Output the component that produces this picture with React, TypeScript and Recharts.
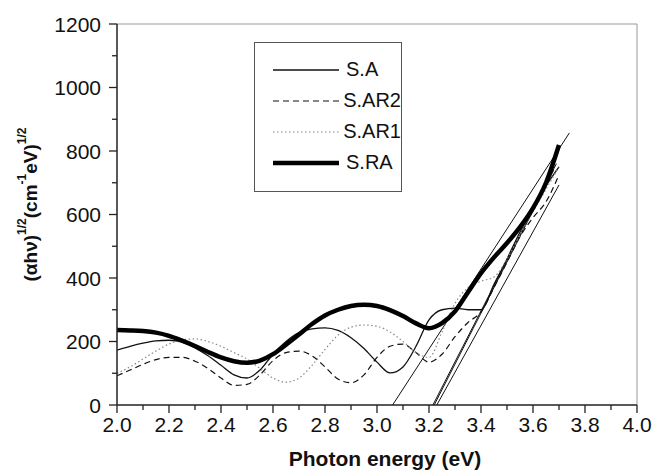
import { LineChart, Line, XAxis, YAxis, ReferenceLine, Legend } from 'recharts'

// ---------- data ----------

const energy = [
  2.0, 2.05, 2.1, 2.15, 2.2, 2.25, 2.3, 2.35, 2.4, 2.45, 2.5, 2.55, 2.6, 2.65, 2.7, 2.75, 2.8, 2.85,
  2.9, 2.95, 3.0, 3.05, 3.1, 3.15, 3.2, 3.25, 3.3, 3.35, 3.4, 3.45, 3.5, 3.55, 3.6, 3.65, 3.7,
]

const sA = [
  173, 185, 195, 202, 204, 198, 180, 155, 125, 95, 85, 110, 160, 200, 228, 240, 243, 235,
  212, 178, 135, 101, 120, 185, 268, 300, 305, 300, 300, 380, 460, 545, 620, 690, 750,
]

const sAR2 = [
  92, 110, 128, 143, 150, 150, 138, 115, 85, 62, 65, 95, 140, 165, 170, 155, 120, 82,
  70, 95, 150, 185, 192, 165, 135, 160, 215, 260, 293, 370, 450, 530, 590, 640, 725,
]

const sAR1 = [
  100, 120, 145, 170, 192, 205, 208, 200, 185, 165, 145, 115, 85, 72, 85, 125, 175, 220,
  245, 252, 248, 230, 200, 165, 150, 230, 320, 370, 390, 403, 460, 535, 610, 680, 750,
]

const sRA = [
  236, 235, 233, 228, 218, 203, 186, 167, 150, 138, 133, 140, 160, 190, 222, 255, 282, 300,
  312, 316, 312, 299, 280, 257, 242, 258, 295, 355, 415, 465, 510, 560, 620, 700, 819,
]

// straight-line fits to the absorption edge
const fitStartEnergy = [3.06, 3.215, 3.22, 3.23]
const fitEndEnergy = [3.74, 3.69, 3.68, 3.7]
const fitEndValue = [857, 760, 740, 693]

const xTicks = [
  2.0, 2.1, 2.2, 2.3, 2.4, 2.5, 2.6, 2.7, 2.8, 2.9, 3.0, 3.1, 3.2, 3.3, 3.4, 3.5, 3.6, 3.7, 3.8, 3.9, 4.0,
]
const yTicks = [0, 100, 200, 300, 400, 500, 600, 700, 800, 900, 1000, 1100, 1200]

// ---------- series ----------

const toPoints = (values: number[]) => energy.map((x, i) => ({ x, y: values[i] }))

const series = [
  { name: 'S.A', values: sA, color: '#111', width: 1.3, dash: undefined as string | undefined },
  { name: 'S.AR2', values: sAR2, color: '#111', width: 1.2, dash: '6 4' },
  { name: 'S.AR1', values: sAR1, color: '#888', width: 1.2, dash: '1.5 2.5' },
  { name: 'S.RA', values: sRA, color: '#000', width: 4.5, dash: undefined },
]

const fits = fitStartEnergy.map((x0, i) => [
  { x: x0, y: 0 },
  { x: fitEndEnergy[i], y: fitEndValue[i] },
])

const font = '"Liberation Sans", Arial, Helvetica, sans-serif'
const axisColor = '#222'

// ---------- ticks & labels ----------

function XTick({ x, y, payload }: any) {
  const major = Math.round(payload.value * 10) % 2 === 0
  return (
    <g>
      <line x1={x} x2={x} y1={y} y2={y + (major ? 8 : 5)} stroke={axisColor} strokeWidth={1.3} />
      {major && (
        <text x={x} y={y + 27} textAnchor="middle" fontSize={21} fill="#111" fontFamily={font}>
          {payload.value.toFixed(1)}
        </text>
      )}
    </g>
  )
}

function YTick({ x, y, payload }: any) {
  const major = payload.value % 200 === 0
  return (
    <g>
      <line x1={x - (major ? 8 : 5)} x2={x} y1={y} y2={y} stroke={axisColor} strokeWidth={1.3} />
      {major && (
        <text x={x - 16} y={y} dy="0.36em" textAnchor="end" fontSize={21} fill="#111" fontFamily={font}>
          {payload.value}
        </text>
      )}
    </g>
  )
}

function YTitle({ viewBox }: any) {
  const cx = viewBox.x + 30
  const cy = viewBox.y + viewBox.height / 2 - 10
  return (
    <text
      x={cx}
      y={cy}
      transform={`rotate(-90, ${cx}, ${cy})`}
      textAnchor="middle"
      dominantBaseline="central"
      fontSize={19}
      fontWeight="bold"
      fill="#111"
      fontFamily={font}
    >
      <tspan>(αhν)</tspan>
      <tspan fontSize={12} dy={-8}>1/2</tspan>
      <tspan dy={8}>(cm</tspan>
      <tspan fontSize={12} dy={-8}>-1</tspan>
      <tspan dy={8}>eV)</tspan>
      <tspan fontSize={12} dy={-8}>1/2</tspan>
    </text>
  )
}

function XTitle({ viewBox }: any) {
  return (
    <text
      x={viewBox.x + viewBox.width / 2 + 8}
      y={viewBox.y + 61}
      textAnchor="middle"
      fontSize={21}
      fontWeight="bold"
      fill="#111"
      fontFamily={font}
    >
      Photon energy (eV)
    </text>
  )
}

function LegendBox() {
  return (
    <div
      style={{
        width: 148,
        height: 150,
        boxSizing: 'border-box',
        border: '1px solid #555',
        background: '#fff',
        paddingTop: 11,
        fontFamily: font,
      }}
    >
      {series.map((s) => (
        <div key={s.name} style={{ height: 31, display: 'flex', alignItems: 'center' }}>
          <svg width={84} height={12} style={{ marginLeft: 18 }}>
            <line
              x1={0}
              x2={66}
              y1={6}
              y2={6}
              stroke={s.color}
              strokeWidth={s.width}
              strokeDasharray={s.dash}
            />
          </svg>
          <span style={{ fontSize: 20, color: '#111', marginLeft: -11 }}>{s.name}</span>
        </div>
      ))}
    </div>
  )
}

export default function App() {
  return (
    <div style={{ position: 'absolute', left: 0, top: 0, width: 652, height: 473, background: '#fff' }}>
      <LineChart width={652} height={473} margin={{ top: 24, right: 15, left: 0, bottom: 0 }}>
        <XAxis
          type="number"
          dataKey="x"
          domain={[2, 4]}
          ticks={xTicks}
          interval={0}
          height={68}
          tickSize={0}
          tickMargin={0}
          tickLine={false}
          tick={<XTick />}
          axisLine={{ stroke: axisColor, strokeWidth: 1.5 }}
          allowDataOverflow
          label={{ content: (p: any) => <XTitle viewBox={p.viewBox} /> }}
        />
        <YAxis
          type="number"
          domain={[0, 1200]}
          ticks={yTicks}
          interval={0}
          width={117}
          tickSize={0}
          tickMargin={0}
          tickLine={false}
          tick={<YTick />}
          axisLine={{ stroke: axisColor, strokeWidth: 1.5 }}
          allowDataOverflow
          label={{ content: (p: any) => <YTitle viewBox={p.viewBox} /> }}
        />
        <ReferenceLine y={1200} stroke="#999" strokeWidth={1} />
        <ReferenceLine x={4} stroke="#999" strokeWidth={1} />
        {fits.map((pts, i) => (
          <Line
            key={`fit-${i}`}
            data={pts}
            dataKey="y"
            type="linear"
            stroke="#111"
            strokeWidth={1}
            dot={false}
            legendType="none"
            isAnimationActive={false}
          />
        ))}
        {series.map((s) => (
          <Line
            key={s.name}
            name={s.name}
            data={toPoints(s.values)}
            dataKey="y"
            type="monotone"
            stroke={s.color}
            strokeWidth={s.width}
            strokeDasharray={s.dash}
            dot={false}
            isAnimationActive={false}
          />
        ))}
        <Legend
          layout="vertical"
          align="center"
          verticalAlign="middle"
          content={() => <LegendBox />}
          wrapperStyle={{ position: 'absolute', left: 254, top: 42, width: 'auto', height: 'auto' }}
        />
      </LineChart>
    </div>
  )
}
